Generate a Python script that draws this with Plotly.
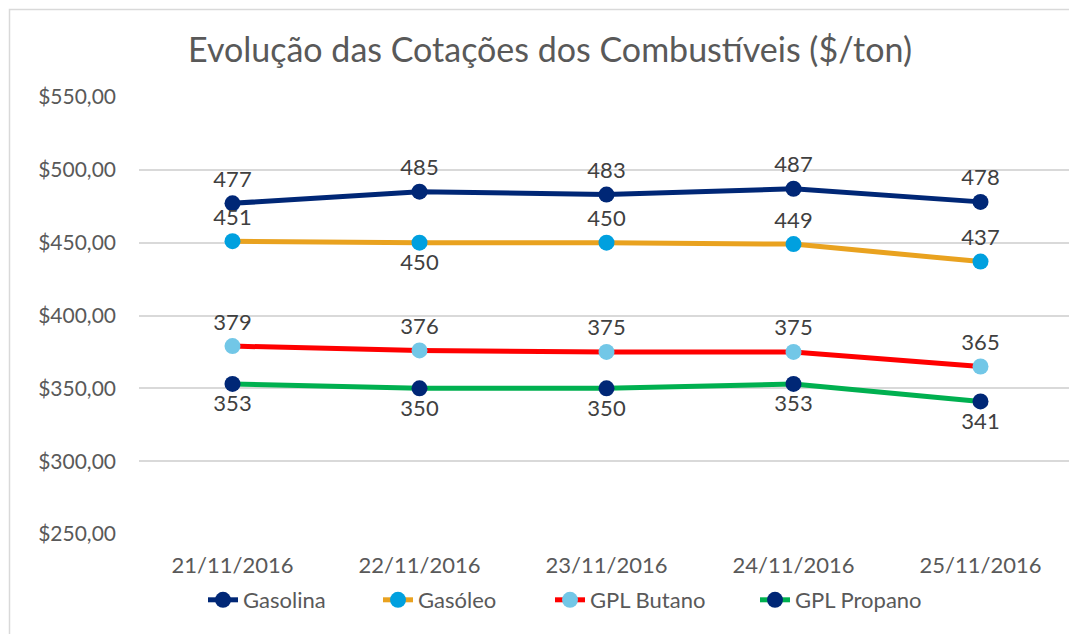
import plotly.graph_objects as go

dates = ["21/11/2016", "22/11/2016", "23/11/2016", "24/11/2016", "25/11/2016"]
gasolina = [477, 485, 483, 487, 478]
gasoleo = [451, 450, 450, 449, 437]
butano = [379, 376, 375, 375, 365]
propano = [353, 350, 350, 353, 341]

gasolina_pos = ["top center"] * 5
gasoleo_pos = ["top center", "bottom center", "top center", "top center", "top center"]
butano_pos = ["top center"] * 5
propano_pos = ["bottom center"] * 5

y_ticks = [250, 300, 350, 400, 450, 500, 550]
y_ticktext = ["$%d,00" % v for v in y_ticks]

FONT = "Lato, 'Open Sans', sans-serif"
TXT = "#404040"
GREY = "#595959"

# page body has an 8px margin; work in window pixels and shift
OFF = 8
W, H = 1077 - OFF, 634 - OFF
L, R, T, B = 139 - OFF, 11 - OFF, 97 - OFF, 634 - 534
pw = W - L - R
ph = H - T - B

def px_x(x):
    return (x - OFF - L) / pw

def px_y(y):
    return (T + ph - (y - OFF)) / ph

series = [
    ("Gasolina", gasolina, gasolina_pos, "#002776", "#002776", "legend", 245),
    ("Gasóleo", gasoleo, gasoleo_pos, "#E9A21F", "#00A0DF", "legend2", 420),
    ("GPL Butano", butano, butano_pos, "#FF0000", "#72C7E7", "legend3", 592),
    ("GPL Propano", propano, propano_pos, "#00B050", "#002776", "legend4", 797),
]

fig = go.Figure()
legends = {}
for name, vals, pos, lc, mc, lg, tx in series:
    fig.add_trace(go.Scatter(
        x=dates, y=vals, name=name, mode="lines+markers+text",
        text=[str(v) for v in vals], textposition=pos,
        textfont=dict(family=FONT, size=22, color=TXT),
        line=dict(color=lc, width=5),
        marker=dict(color=mc, size=16),
        cliponaxis=False, legend=lg,
    ))
    legends[lg] = dict(orientation="h", x=px_x(tx - 42), xanchor="left",
                       y=px_y(600), yanchor="middle",
                       font=dict(family=FONT, size=22, color=GREY),
                       bgcolor="rgba(0,0,0,0)")

fig.update_layout(
    width=W, height=H,
    margin=dict(l=L, r=R, t=T, b=B, autoexpand=False),
    paper_bgcolor="white", plot_bgcolor="white",
    title=dict(text="Evolução das Cotações dos Combustíveis ($/ton)",
               x=(550 - OFF) / W, xanchor="center", xref="container",
               y=1 - (50 - OFF) / H, yanchor="middle", yref="container",
               font=dict(family=FONT, size=34, color=GREY)),
    xaxis=dict(range=[-0.5, 4.5], showgrid=False, showline=False, ticks="",
               automargin=False, ticklabelstandoff=16,
               tickfont=dict(family=FONT, size=22, color=GREY)),
    yaxis=dict(range=[250, 550], tickvals=y_ticks, ticktext=y_ticktext,
               showgrid=True, gridcolor="#D9D9D9", gridwidth=1.5,
               zeroline=False, showline=False, ticks="",
               automargin=False, ticklabelstandoff=22,
               tickfont=dict(family=FONT, size=21, color=GREY)),
    showlegend=True,
    shapes=[dict(type="rect", xref="paper", yref="paper",
                 x0=px_x(9.5), x1=px_x(1085),
                 y0=px_y(645), y1=px_y(9.5),
                 line=dict(color="#D9D9D9", width=1.5), fillcolor="rgba(0,0,0,0)",
                 layer="below")],
    **legends,
)

fig.write_html("out.html")
